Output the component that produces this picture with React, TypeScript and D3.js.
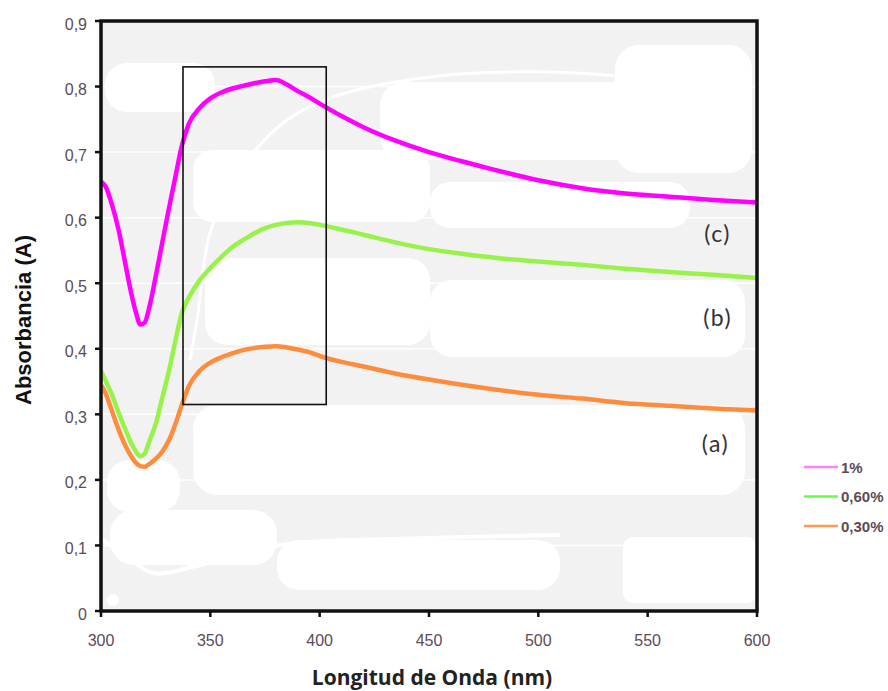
import React from "react";
import * as d3 from "d3";

// Wavelength grid (nm) shared by all three spectra
const wavelength = [300, 302, 305, 308, 311, 314, 316, 318, 320, 322, 325, 328, 331, 334, 337, 340, 345, 350, 355, 360, 365, 370, 375, 380, 385, 390, 395, 400, 410, 420, 435, 450, 465, 480, 500, 520, 540, 560, 580, 600];

// Absorbance for each concentration
const abs1 = [0.655, 0.648, 0.62, 0.582, 0.532, 0.482, 0.455, 0.437, 0.44, 0.462, 0.51, 0.562, 0.613, 0.662, 0.71, 0.742, 0.767, 0.782, 0.791, 0.797, 0.801, 0.805, 0.808, 0.81, 0.803, 0.793, 0.784, 0.774, 0.755, 0.738, 0.717, 0.7, 0.686, 0.673, 0.657, 0.645, 0.637, 0.632, 0.627, 0.623];
const abs060 = [0.366, 0.352, 0.33, 0.303, 0.278, 0.255, 0.243, 0.236, 0.24, 0.258, 0.285, 0.325, 0.365, 0.412, 0.455, 0.477, 0.504, 0.523, 0.54, 0.555, 0.566, 0.576, 0.584, 0.589, 0.592, 0.593, 0.592, 0.589, 0.582, 0.574, 0.562, 0.552, 0.545, 0.539, 0.533, 0.528, 0.522, 0.517, 0.513, 0.508];
const abs030 = [0.345, 0.333, 0.305, 0.277, 0.253, 0.235, 0.226, 0.221, 0.22, 0.224, 0.232, 0.243, 0.26, 0.285, 0.315, 0.342, 0.366, 0.379, 0.387, 0.393, 0.398, 0.401, 0.403, 0.404, 0.402, 0.399, 0.395, 0.389, 0.38, 0.373, 0.362, 0.353, 0.345, 0.338, 0.33, 0.324, 0.317, 0.313, 0.309, 0.306];

const seriesNames = ["1%", "0,60%", "0,30%"];
const seriesValues = [abs1, abs060, abs030];
const seriesColors = ["#ff00ff", "#99f24a", "#ff8c3c"];
const legendColors = ["#ff80ff", "#66ff44", "#ff9a55"];

const xTicks = [300, 350, 400, 450, 500, 550, 600];
const yTicks = [0, 0.1, 0.2, 0.3, 0.4, 0.5, 0.6, 0.7, 0.8, 0.9];

// Curve labels: [text, wavelength, absorbance]
const curveLabels: [string, number, number][] = [
  ["(c)", 582, 0.577],
  ["(b)", 582, 0.449],
  ["(a)", 581, 0.256],
];

// Highlight box around the absorption maxima
const boxX = [337.5, 403];
const boxY = [0.315, 0.83];

const W = 888;
const H = 691;
const left = 101;
const top = 21;
const right = 757;
const bottom = 611;

// Pale patches in the plot background: [x0, y0, x1, y1, radius] relative to plot area
const patches = [
  [4, 42, 114, 91, 22],
  [279, 61, 559, 139, 24],
  [514, 24, 651, 152, 24],
  [92, 129, 329, 201, 20],
  [329, 161, 589, 207, 20],
  [104, 237, 329, 324, 22],
  [329, 259, 644, 336, 22],
  [92, 384, 644, 474, 24],
  [6, 439, 79, 491, 22],
  [9, 489, 176, 544, 24],
  [176, 519, 459, 569, 22],
  [522, 516, 656, 582, 10],
];
const arcA = [[89, 339], [96, 299], [109, 212], [134, 159], [152, 132], [186, 99], [232, 76], [329, 56], [449, 51], [562, 59]];
const arcB = [[2, 519], [24, 534], [52, 552], [99, 544], [179, 524], [329, 517], [459, 514]];

export default function App() {
  const x = d3.scaleLinear().domain([300, 600]).range([left, right]);
  const y = d3.scaleLinear().domain([0, 0.9]).range([bottom, top]);

  const line = d3
    .line<number>()
    .x((_, i) => x(wavelength[i]))
    .y((d) => y(d))
    .curve(d3.curveMonotoneX);

  const arcLine = d3
    .line<number[]>()
    .x((p) => left + p[0])
    .y((p) => top + p[1])
    .curve(d3.curveCatmullRom);

  const tickFont = "'Liberation Sans', Arial, sans-serif";

  return (
    <svg
      width={W}
      height={H}
      style={{ position: "absolute", left: 0, top: 0, background: "#fff" }}
    >
      <defs>
        <clipPath id="plotClip">
          <rect x={left} y={top} width={right - left} height={bottom - top} />
        </clipPath>
      </defs>

      {/* plot background */}
      <rect x={left} y={top} width={right - left} height={bottom - top} fill="#f2f2f2" />
      <g clipPath="url(#plotClip)">
        {patches.map((p, i) => (
          <rect
            key={i}
            x={left + p[0]}
            y={top + p[1]}
            width={p[2] - p[0]}
            height={p[3] - p[1]}
            rx={p[4]}
            fill="#ffffff"
          />
        ))}
        <circle cx={left + 12} cy={top + 579} r={6} fill="#fff" />
        <path d={arcLine(arcA) || ""} fill="none" stroke="#fff" strokeWidth={3} />
        <path d={arcLine(arcB) || ""} fill="none" stroke="#fff" strokeWidth={4} />
        {yTicks.slice(1).map((t) => (
          <line key={t} x1={left} x2={right} y1={y(t)} y2={y(t)} stroke="#fff" strokeWidth={1.5} />
        ))}
      </g>

      {/* spectra */}
      <g clipPath="url(#plotClip)">
        {seriesValues.map((vals, i) => (
          <path
            key={seriesNames[i]}
            d={line(vals) || ""}
            fill="none"
            stroke={seriesColors[i]}
            strokeWidth={4.5}
            strokeLinejoin="round"
            strokeLinecap="round"
          />
        ))}
      </g>

      {/* highlight box */}
      <rect
        x={x(boxX[0])}
        y={y(boxY[1])}
        width={x(boxX[1]) - x(boxX[0])}
        height={y(boxY[0]) - y(boxY[1])}
        fill="none"
        stroke="#111"
        strokeWidth={1.6}
      />

      {/* curve labels */}
      {curveLabels.map(([t, wx, wy]) => (
        <text
          key={t}
          x={x(wx)}
          y={y(wy)}
          textAnchor="middle"
          dominantBaseline="central"
          fontFamily="Lato, 'Open Sans', sans-serif"
          fontSize={23}
          letterSpacing={1.5}
          fill="#333"
        >
          {t}
        </text>
      ))}

      {/* frame */}
      <rect
        x={left}
        y={top}
        width={right - left}
        height={bottom - top}
        fill="none"
        stroke="#111"
        strokeWidth={3.5}
      />

      {/* y axis ticks */}
      {yTicks.map((t) => (
        <g key={t}>
          <line x1={left - 6} x2={left} y1={y(t)} y2={y(t)} stroke="#111" strokeWidth={2.5} />
          <text
            x={left - 14}
            y={y(t) + 3}
            textAnchor="end"
            dominantBaseline="central"
            fontFamily={tickFont}
            fontSize={16}
            fill="#5c4b57"
          >
            {t === 0 ? "0" : d3.format(".1f")(t).replace(".", ",")}
          </text>
        </g>
      ))}

      {/* x axis ticks */}
      {xTicks.map((t) => (
        <g key={t}>
          <line x1={x(t)} x2={x(t)} y1={bottom} y2={bottom + 6} stroke="#111" strokeWidth={2.5} />
          <text
            x={x(t)}
            y={bottom + 29}
            textAnchor="middle"
            dominantBaseline="central"
            fontFamily={tickFont}
            fontSize={16}
            fill="#5c4b57"
          >
            {t}
          </text>
        </g>
      ))}

      {/* axis titles */}
      <text
        x={432}
        y={685}
        textAnchor="middle"
        fontFamily="'Open Sans', sans-serif"
        fontWeight="bold"
        fontSize={21}
        fill="#222"
      >
        Longitud de Onda (nm)
      </text>
      <text
        transform={`translate(23, 320) rotate(-90)`}
        textAnchor="middle"
        dominantBaseline="central"
        fontFamily={tickFont}
        fontWeight="bold"
        fontSize={22}
        fill="#111"
      >
        Absorbancia (A)
      </text>

      {/* legend */}
      {seriesNames.map((n, i) => (
        <g key={n} transform={`translate(804, ${467 + i * 29.5})`}>
          <line x1={0} x2={34} y1={0} y2={0} stroke={legendColors[i]} strokeWidth={2.5} />
          <text
            x={37}
            y={0}
            dominantBaseline="central"
            fontFamily={tickFont}
            fontWeight="bold"
            fontSize={15}
            fill="#5c4b57"
          >
            {n}
          </text>
        </g>
      ))}
    </svg>
  );
}
